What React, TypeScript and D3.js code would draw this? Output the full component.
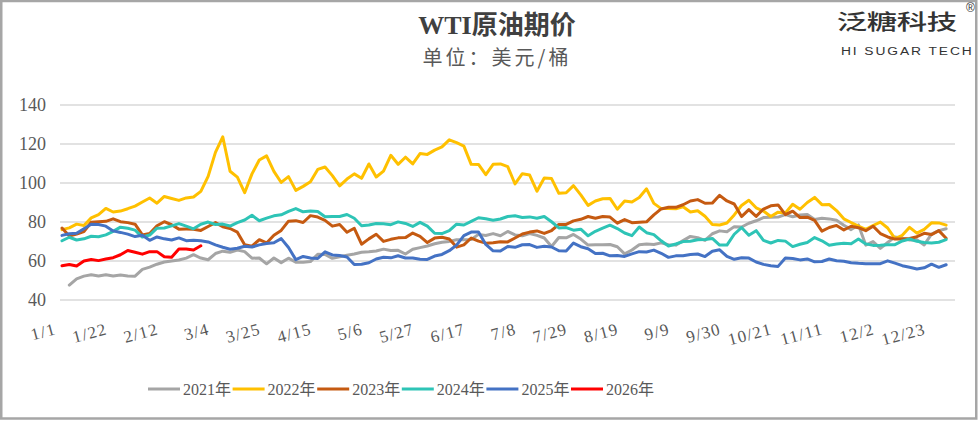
import React, { useRef, useEffect } from 'react';
import * as d3 from 'd3';

const width = 978;
const height = 421;

// category axis: one slot per calendar day (leap-year calendar), a label every 21 days
const dayCount = 366;
const tickStep = 21;
const tickLabels = ['1/1', '1/22', '2/12', '3/4', '3/25', '4/15', '5/6', '5/27', '6/17', '7/8', '7/29', '8/19', '9/9', '9/30', '10/21', '11/11', '12/2', '12/23'];
const yTicks = [40, 60, 80, 100, 120, 140];

// values read every 3rd day (day index 0, 3, 6 ... 363)
const sampleDays = d3.range(0, dayCount, 3);

const seriesNames = ['2021年', '2022年', '2023年', '2024年', '2025年', '2026年'];
const seriesColours = ['#A5A5A5', '#FFC000', '#C55A11', '#2EC4B6', '#4472C4', '#FF0000'];

const wti2021 = [
  null, 47.62, 50.83, 52.24, 52.91, 52.36, 52.98, 52.27, 52.77, 52.34,
  52.2, 55.69, 56.85, 58.36, 59.47, 60.05, 60.52, 61.49, 63.22, 61.5,
  60.64, 63.83, 65.05, 64.44, 65.61, 64.8, 61.42, 61.55, 58.56, 61.56,
  59.16, 61.45, 59.33, 59.32, 59.7, 63.46, 63.38, 61.35, 62.14, 62.94,
  63.58, 64.49, 64.71, 65.16, 66.08, 65.37, 65.49, 63.58, 66.05, 66.85,
  67.72, 68.83, 69.62, 70.05, 70.91, 70.88, 71.04, 73.66, 73.08, 74.05,
  72.98, 75.16, 73.37, 72.94, 74.1, 73.13, 71.81, 67.42, 72.07, 71.91,
  73.62, 71.26, 68.15, 68.28, 68.29, 68.44, 67.29, 63.69, 65.64, 68.36,
  68.74, 68.5, 69.29, 68.35, 68.14, 70.45, 72.61, 71.97, 70.56, 73.98,
  75.45, 75.03, 77.62, 77.43, 79.35, 80.64, 82.28, 82.44, 82.5, 83.76,
  82.66, 83.57, 83.91, 81.27, 81.93, 81.59, 80.88, 78.36, 76.1, 78.5,
  68.15, 69.95, 66.5, 69.49, 72.36, 71.67, 70.73, 70.86, 68.23, 73.79,
  75.57, 76.56,
];

const wti2022 = [
  76.08, 76.99, 78.9, 78.23, 82.12, 83.82, 86.96, 85.14, 85.6, 86.82,
  88.15, 90.27, 92.31, 89.66, 93.1, 92.07, 91.07, 92.35, 92.81, 95.72,
  103.41, 115.68, 123.7, 106.02, 103.01, 95.04, 104.7, 111.76, 113.9, 105.96,
  100.28, 103.28, 96.23, 98.26, 100.6, 106.95, 108.21, 103.79, 98.54, 102.02,
  104.69, 102.41, 109.77, 103.09, 106.13, 114.2, 109.59, 113.23, 109.77, 115.07,
  114.67, 116.87, 118.5, 122.11, 120.67, 118.93, 109.56, 109.52, 104.27, 109.57,
  109.78, 108.43, 99.5, 104.79, 104.09, 95.78, 102.6, 102.26, 94.7, 94.98,
  98.62, 93.89, 88.54, 90.76, 91.93, 92.09, 86.53, 90.77, 90.23, 92.52,
  97.01, 89.55, 86.87, 86.88, 86.79, 87.78, 85.1, 85.73, 82.94, 78.74,
  78.5, 79.49, 83.63, 88.45, 91.13, 87.27, 85.61, 82.82, 85.05, 84.58,
  89.08, 86.53, 90.0, 92.61, 88.91, 88.96, 85.87, 81.64, 79.73, 77.94,
  76.28, 78.2, 79.98, 76.93, 71.46, 73.17, 77.28, 74.29, 76.23, 79.56,
  79.53, 78.4,
];

const wti2023 = [
  76.93, 72.84, 73.77, 75.12, 79.86, 80.18, 80.33, 81.62, 80.15, 79.68,
  78.87, 73.39, 74.11, 78.06, 80.14, 78.59, 76.34, 76.36, 76.32, 75.68,
  77.69, 79.68, 77.58, 76.68, 74.8, 68.35, 67.64, 70.9, 69.26, 73.2,
  75.67, 80.42, 80.7, 79.74, 83.26, 82.52, 80.86, 77.87, 78.76, 74.76,
  76.78, 68.6, 71.34, 73.71, 70.04, 71.11, 71.86, 71.99, 74.34, 72.67,
  69.46, 71.74, 72.15, 71.29, 67.12, 68.27, 71.78, 70.19, 69.16, 69.37,
  69.86, 69.79, 71.79, 73.86, 74.83, 75.42, 74.15, 75.63, 78.74, 78.78,
  80.58, 81.37, 82.82, 81.94, 82.82, 82.51, 79.38, 81.25, 79.64, 79.83,
  80.1, 83.63, 86.69, 87.54, 87.51, 88.84, 90.77, 91.48, 89.63, 89.68,
  93.68, 90.79, 89.23, 82.79, 86.38, 82.91, 86.66, 88.32, 88.75, 83.74,
  85.54, 82.31, 82.46, 80.82, 75.33, 77.17, 78.26, 75.89, 77.83, 77.1,
  75.54, 77.86, 74.07, 72.32, 71.23, 71.32, 71.58, 72.47, 74.22, 73.56,
  75.57, 71.65,
];

const wti2024 = [
  70.38, 72.19, 70.77, 71.37, 72.68, 72.4, 73.41, 75.19, 77.36, 76.78,
  75.85, 72.28, 73.31, 76.84, 76.92, 78.03, 79.19, 77.91, 76.49, 78.87,
  79.97, 78.74, 78.93, 77.93, 79.72, 81.04, 83.47, 80.63, 81.95, 83.17,
  83.71, 85.43, 86.91, 85.23, 85.66, 85.41, 82.73, 82.85, 82.81, 83.85,
  81.93, 78.11, 78.48, 79.26, 79.12, 78.63, 80.06, 79.26, 77.72, 79.83,
  77.91, 74.22, 74.07, 75.53, 78.9, 78.45, 80.33, 82.17, 81.63, 80.9,
  81.54, 82.81, 83.16, 82.33, 82.62, 81.91, 82.85, 80.13, 76.96, 77.16,
  75.81, 76.31, 72.94, 75.23, 76.84, 78.35, 76.65, 74.37, 73.01, 77.42,
  74.52, 73.55, 70.34, 67.67, 68.71, 69.97, 70.09, 70.91, 71.0, 71.56,
  68.18, 68.17, 73.71, 77.14, 73.24, 75.56, 70.58, 69.22, 70.56, 70.19,
  67.38, 68.61, 69.49, 71.99, 70.38, 68.04, 68.7, 69.16, 68.87, 71.24,
  68.77, 68.0, 68.1, 68.3, 68.37, 70.29, 71.29, 70.08, 69.46, 69.24,
  69.62, 70.99,
];

const wti2025 = [
  73.13, 73.96, 74.25, 76.57, 78.82, 78.68, 77.88, 75.44, 74.66, 73.77,
  72.53, 73.16, 70.61, 72.32, 71.37, 70.74, 71.85, 70.4, 70.7, 70.35,
  69.76, 68.26, 67.04, 66.03, 66.55, 67.58, 67.16, 68.28, 69.0, 69.36,
  71.48, 66.95, 60.7, 62.35, 61.5, 61.33, 64.68, 63.08, 62.79, 62.05,
  58.21, 58.29, 59.09, 61.02, 61.95, 61.62, 62.69, 61.57, 61.53, 60.89,
  60.79, 62.52, 63.37, 65.29, 68.15, 72.98, 74.84, 74.93, 68.51, 65.24,
  65.11, 67.45, 67.0, 68.33, 68.45, 66.98, 67.54, 67.2, 65.25, 65.16,
  69.21, 67.33, 66.29, 63.88, 63.96, 62.65, 62.8, 62.35, 63.66, 64.8,
  64.6, 65.59, 63.97, 61.87, 62.63, 62.69, 63.3, 63.57, 62.28, 64.99,
  65.72, 62.37, 60.88, 61.69, 61.51, 59.49, 58.27, 57.54, 57.24, 61.5,
  61.31, 60.57, 61.05, 59.6, 59.75, 61.04, 60.09, 59.91, 59.14, 58.84,
  58.65, 58.55, 58.64, 60.08, 58.88, 57.6, 56.82, 55.94, 56.52, 58.38,
  56.74, 58.08,
];

const wti2026 = [
  57.6, 58.2, 57.4, 60.0, 60.8, 60.2, 61.0, 61.7, 63.2, 65.4,
  64.5, 63.5, 64.8, 64.8, 62.2, 61.9, 66.2, 66.1, 65.6, 67.8,
];

const seriesValues = [wti2021, wti2022, wti2023, wti2024, wti2025, wti2026];

const logoChars = ['泛', '糖', '科', '技'];

const serif = "'Liberation Serif', 'Noto Sans CJK SC', serif";
const cjk = "'Noto Sans CJK SC', sans-serif";
const sans = "'Liberation Sans', Arial, sans-serif";

const App: React.FC = () => {
  const svgRef = useRef<SVGSVGElement | null>(null);

  useEffect(() => {
    if (!svgRef.current) return;
    const svg = d3.select(svgRef.current);
    svg.selectAll('*').remove();

    const x = d3.scaleLinear().domain([0, dayCount - 1]).range([62, 951]);
    const y = d3.scaleLinear().domain([40, 140]).range([300, 105]);

    // outer frame
    svg.append('rect')
      .attr('x', 1.25).attr('y', 1)
      .attr('width', 975).attr('height', 417.5)
      .attr('fill', 'white')
      .attr('stroke', '#A6A6A6')
      .attr('stroke-width', 2.5);

    // titles
    svg.append('text')
      .attr('x', 497).attr('y', 34)
      .attr('text-anchor', 'middle')
      .attr('font-family', serif)
      .attr('font-weight', 'bold')
      .attr('font-size', 26)
      .attr('fill', '#404040')
      .text('WTI原油期价');

    svg.append('text')
      .attr('x', 497).attr('y', 65)
      .attr('text-anchor', 'middle')
      .attr('font-family', cjk)
      .attr('font-size', 20)
      .attr('letter-spacing', 3)
      .attr('fill', '#595959')
      .text('单位：美元/桶');

    // logo: wide glyphs, one per 30px slot
    svg.append('g')
      .selectAll('text')
      .data(logoChars)
      .enter().append('text')
      .attr('transform', (d, i) => `translate(${852 + i * 30},29) scale(1.45,1)`)
      .attr('text-anchor', 'middle')
      .attr('font-family', cjk)
      .attr('font-size', 21)
      .attr('font-weight', 500)
      .attr('fill', '#333333')
      .text(d => d);
    svg.append('text')
      .attr('transform', 'translate(841,55) scale(1.2,1)')
      .attr('font-family', sans)
      .attr('font-size', 11.5)
      .attr('letter-spacing', 1.6)
      .attr('fill', '#333333')
      .text('HI SUGAR TECH');
    svg.append('text')
      .attr('x', 966).attr('y', 12)
      .attr('font-family', sans)
      .attr('font-size', 12)
      .attr('fill', '#333333')
      .text('®');

    // gridlines + y labels
    const grid = svg.append('g');
    grid.selectAll('line')
      .data(yTicks)
      .enter().append('line')
      .attr('x1', 60).attr('x2', 955)
      .attr('y1', d => y(d)).attr('y2', d => y(d))
      .attr('stroke', '#D9D9D9')
      .attr('stroke-width', 1.5);

    grid.selectAll('text')
      .data(yTicks)
      .enter().append('text')
      .attr('x', 46)
      .attr('y', d => y(d))
      .attr('dy', '0.35em')
      .attr('text-anchor', 'end')
      .attr('font-family', serif)
      .attr('font-size', 18)
      .attr('fill', '#595959')
      .text(d => d);

    // x labels (slanted)
    svg.append('g')
      .selectAll('text')
      .data(tickLabels)
      .enter().append('text')
      .attr('transform', (d, i) => `translate(${x(i * tickStep) - 5},334) rotate(-15)`)
      .attr('text-anchor', 'end')
      .attr('font-family', serif)
      .attr('font-size', 17)
      .attr('letter-spacing', 1.2)
      .attr('fill', '#595959')
      .text(d => d);

    // lines
    const line = d3.line<number | null>()
      .defined(d => d != null)
      .x((d, i) => x(sampleDays[i]))
      .y(d => y(d as number));

    svg.append('g')
      .selectAll('path')
      .data(seriesValues)
      .enter().append('path')
      .attr('d', d => line(d))
      .attr('fill', 'none')
      .attr('stroke', (d, i) => seriesColours[i])
      .attr('stroke-width', 3)
      .attr('stroke-linejoin', 'round')
      .attr('stroke-linecap', 'round');

    // legend
    const legend = svg.append('g')
      .selectAll('g')
      .data(seriesNames)
      .enter().append('g')
      .attr('transform', (d, i) => `translate(${148 + i * 84.6},389)`);

    legend.append('line')
      .attr('x1', 0).attr('x2', 32)
      .attr('stroke', (d, i) => seriesColours[i])
      .attr('stroke-width', 3);

    legend.append('text')
      .attr('x', 35)
      .attr('y', 6)
      .attr('font-family', serif)
      .attr('font-size', 16)
      .attr('fill', '#595959')
      .text(d => d);
  }, []);

  return (
    <div style={{ position: 'absolute', left: 0, top: 0 }}>
      <svg ref={svgRef} width={width} height={height} style={{ display: 'block' }} />
    </div>
  );
};

export default App;
